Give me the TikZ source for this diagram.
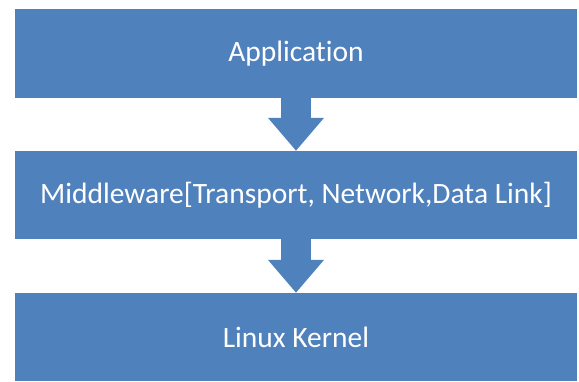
\documentclass[tikz,border=0pt]{standalone}
\usepackage{fontspec}
\setmainfont{Carlito}[Ligatures=NoCommon]
\usetikzlibrary{arrows.meta}
\definecolor{layerblue}{HTML}{4F81BD}

\begin{document}
\begin{tikzpicture}[x=1pt,y=1pt,
  layer/.style={rectangle, fill=layerblue, text=white, minimum width=562pt, minimum height=88pt, inner sep=0pt, font=\fontsize{29.5}{34}\selectfont},
  down/.style={layerblue, line width=30pt, -{Triangle[width=54pt,length=33pt]}}]
\useasboundingbox (0,0) rectangle (579,-381);
\node[layer, minimum height=89pt] (app) at (296,-53.5) {Application} ;
\node[layer] (mid) at (296,-195) {Middleware[Transport, Network,Data Link]} ;
\node[layer] (kern) at (296,-337) {Linux Kernel} ;
\draw[down] (app.south) -- (mid.north) ;
\draw[down] (mid.south) -- (kern.north) ;
\end{tikzpicture}
\end{document}
